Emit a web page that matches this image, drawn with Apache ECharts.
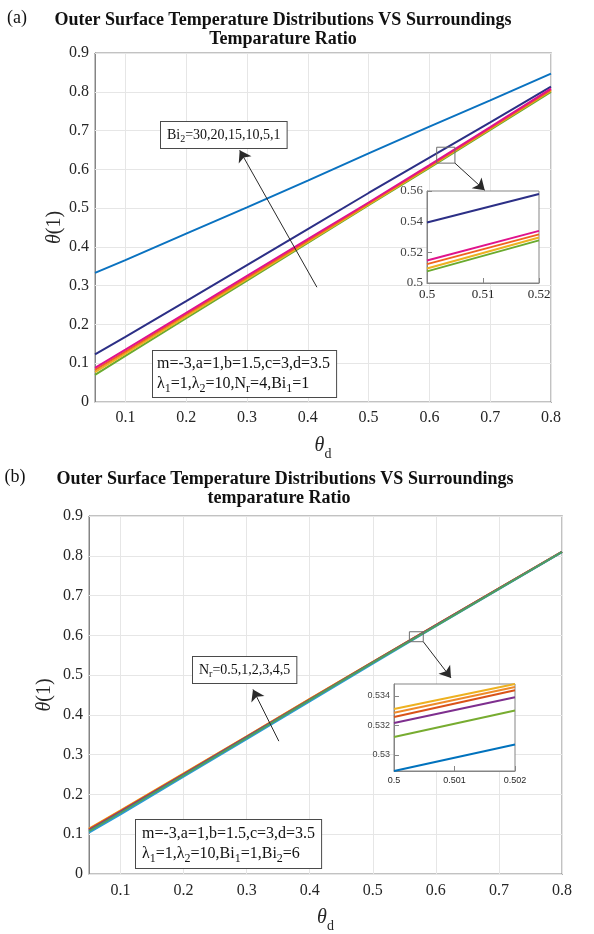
<!DOCTYPE html>
<html>
<head>
<meta charset="utf-8">
<script src="https://cdn.jsdelivr.net/npm/echarts@6/dist/echarts.min.js"></script>
<style>
  html, body { margin: 0; padding: 0; background: #fff; }
  #chart { width: 594px; height: 934px; }
</style>
</head>
<body>
<div id="chart"></div>
<script>
// ---- data -------------------------------------------------------------
// theta_d sample points shared by the main curves
const thetaD = [0.05, 0.1, 0.2, 0.3, 0.4, 0.5, 0.6, 0.7, 0.8];

// (a) theta(1) for Bi2 = 1, 5, 10, 15, 20, 30
const bi2_1  = [0.333, 0.366, 0.434, 0.502, 0.571, 0.641, 0.710, 0.778, 0.847];
const bi2_5  = [0.123, 0.168, 0.260, 0.353, 0.446, 0.539, 0.630, 0.721, 0.813];
const bi2_10 = [0.088, 0.135, 0.230, 0.325, 0.420, 0.5145, 0.611, 0.709, 0.808];
const bi2_15 = [0.083, 0.130, 0.226, 0.321, 0.416, 0.512, 0.608, 0.706, 0.805];
const bi2_20 = [0.077, 0.125, 0.221, 0.317, 0.413, 0.5095, 0.606, 0.704, 0.803];
const bi2_30 = [0.070, 0.119, 0.216, 0.313, 0.410, 0.5075, 0.604, 0.702, 0.800];

// (a) close-up around theta_d = 0.5
const zoomXa     = [0.5, 0.52];
const zoomBi2_5  = [0.5395, 0.558];
const zoomBi2_10 = [0.5147, 0.534];
const zoomBi2_15 = [0.5123, 0.5317];
const zoomBi2_20 = [0.5095, 0.5297];
const zoomBi2_30 = [0.5076, 0.5278];

// (b) theta(1) for Nr = 0.5, 1, 2, 3, 4, 5
const nr05 = [0.104, 0.150, 0.245, 0.339, 0.434, 0.5289, 0.623, 0.716, 0.809];
const nr1  = [0.108, 0.154, 0.248, 0.342, 0.437, 0.5312, 0.624, 0.717, 0.8095];
const nr2  = [0.110, 0.156, 0.250, 0.344, 0.438, 0.5322, 0.625, 0.7175, 0.8098];
const nr3  = [0.112, 0.158, 0.251, 0.345, 0.439, 0.5326, 0.6255, 0.718, 0.810];
const nr4  = [0.113, 0.159, 0.252, 0.3455, 0.4395, 0.5329, 0.6258, 0.718, 0.810];
const nr5  = [0.114, 0.160, 0.253, 0.346, 0.440, 0.5331, 0.626, 0.7183, 0.8102];

// (b) close-up around theta_d = 0.5
const zoomXb    = [0.5, 0.502];
const zoomNr05  = [0.5289, 0.5307];
const zoomNr1   = [0.5312, 0.5330];
const zoomNr2   = [0.53215, 0.5339];
const zoomNr3   = [0.53256, 0.53438];
const zoomNr4   = [0.53285, 0.5346];
const zoomNr5   = [0.5331, 0.5348];

// tick values
const xTicksMain  = [0.1, 0.2, 0.3, 0.4, 0.5, 0.6, 0.7, 0.8];
const yTicksMain  = [0, 0.1, 0.2, 0.3, 0.4, 0.5, 0.6, 0.7, 0.8, 0.9];
const xTicksZoomA = [0.5, 0.51, 0.52];
const yTicksZoomA = [0.5, 0.52, 0.54, 0.56];
const xTicksZoomB = [0.5, 0.501, 0.502];
const yTicksZoomB = [0.53, 0.532, 0.534];

// ---- styling ----------------------------------------------------------
const SERIF = '"Liberation Serif", "Times New Roman", serif';
const SANS  = '"Liberation Sans", Arial, sans-serif';
const AXIS  = '#858585';
const GRIDC = '#e6e6e6';
const INK   = '#262626';

const fmt = v => String(parseFloat(Number(v).toFixed(4)));
const pairs = (xs, ys) => xs.map((x, i) => [x, ys[i]]);

function bottomX(gridIndex, min, max, ticks, font, size, margin, withName) {
  const ax = {
    type: 'value', gridIndex, min, max, position: 'bottom',
    axisLine: { show: true, onZero: false, lineStyle: { color: AXIS } },
    axisTick: { show: true, inside: true, length: 5, customValues: ticks, lineStyle: { color: AXIS } },
    axisLabel: { customValues: ticks, color: INK, fontFamily: font, fontSize: size, margin, formatter: fmt },
    splitLine: { show: false }
  };
  if (withName) {
    ax.name = '{t|θ}{s|d}';
    ax.nameLocation = 'middle';
    ax.nameGap = 32;
    ax.nameTextStyle = {
      rich: {
        t: { fontFamily: SERIF, fontStyle: 'italic', fontSize: 20, lineHeight: 24, color: INK },
        s: { fontFamily: SERIF, fontSize: 14, lineHeight: 24, color: INK, verticalAlign: 'top', padding: [13, 0, 0, 0] }
      }
    };
  }
  return ax;
}
function topX(gridIndex, min, max, ticks) {
  return {
    type: 'value', gridIndex, min, max, position: 'top',
    axisLine: { show: true, onZero: false, lineStyle: { color: AXIS } },
    axisTick: { show: true, inside: true, length: 5, customValues: ticks, lineStyle: { color: AXIS } },
    axisLabel: { show: false }, splitLine: { show: false }
  };
}
function leftY(gridIndex, min, max, ticks, font, size, margin, nameGap, color) {
  const ax = {
    type: 'value', gridIndex, min, max, position: 'left',
    axisLine: { show: true, onZero: false, lineStyle: { color: AXIS } },
    axisTick: { show: true, inside: true, length: 5, customValues: ticks, lineStyle: { color: AXIS } },
    axisLabel: { customValues: ticks, color: color || INK, fontFamily: font, fontSize: size, margin, formatter: fmt },
    splitLine: { show: false }
  };
  if (nameGap) {
    ax.name = '{t|θ}{n|(1)}';
    ax.nameLocation = 'middle';
    ax.nameGap = nameGap;
    ax.nameMoveOverlap = false;
    ax.nameTextStyle = {
      rich: {
        t: { fontFamily: SERIF, fontStyle: 'italic', fontSize: 20, color: INK },
        n: { fontFamily: SERIF, fontSize: 20, color: INK }
      }
    };
  }
  return ax;
}
function rightY(gridIndex, min, max, ticks) {
  return {
    type: 'value', gridIndex, min, max, position: 'right',
    axisLine: { show: true, onZero: false, lineStyle: { color: AXIS } },
    axisTick: { show: true, inside: true, length: 5, customValues: ticks, lineStyle: { color: AXIS } },
    axisLabel: { show: false }, splitLine: { show: false }
  };
}

function curve(name, xi, yi, xs, ys, color, width, z) {
  return {
    name, type: 'line', xAxisIndex: xi, yAxisIndex: yi,
    data: pairs(xs, ys), showSymbol: false, symbol: 'none',
    lineStyle: { color, width }, itemStyle: { color }, z: z || 3, silent: true
  };
}

// grid lines and the small zoom box of one panel
function decor(xi, yi, xGrid, yGrid, rect) {
  return {
    type: 'line', xAxisIndex: xi, yAxisIndex: yi, data: [], z: 1, silent: true,
    markLine: {
      z: 1, silent: true, symbol: ['none', 'none'], label: { show: false }, animation: false,
      lineStyle: { color: GRIDC, type: 'solid', width: 1 },
      data: xGrid.map(v => ({ xAxis: v })).concat(yGrid.map(v => ({ yAxis: v })))
    },
    markArea: {
      z: 4, silent: true, animation: false,
      itemStyle: { color: 'rgba(0,0,0,0)', borderColor: '#6e6e6e', borderWidth: 1 },
      data: [[{ coord: rect[0] }, { coord: rect[1] }]]
    }
  };
}
// pointer arrows of one panel
function pointers(xi, yi, arrows) {
  return {
    type: 'line', xAxisIndex: xi, yAxisIndex: yi, data: [], z: 5, silent: true,
    markLine: {
      z: 5, silent: true, symbol: ['none', 'arrow'], symbolSize: 11, label: { show: false }, animation: false,
      lineStyle: { color: '#2a2a2a', type: 'solid', width: 1 },
      data: arrows.map(a => [{ coord: a[0] }, { coord: a[1] }])
    }
  };
}

function box(x, y, text, size, pad) {
  return {
    type: 'text', left: x, top: y, z: 100,
    style: {
      text,
      rich: {
        n: { fontFamily: SERIF, fontSize: size, lineHeight: size + 4, fill: '#111' },
        s: { fontFamily: SERIF, fontSize: size - 4, lineHeight: size + 4, fill: '#111', verticalAlign: 'top', padding: [Math.round(size * 0.55), 0, 0, 0] }
      },
      backgroundColor: '#fff', borderColor: '#4a4a4a', borderWidth: 1, padding: pad
    }
  };
}
function label(x, y, text, font) {
  return {
    type: 'text', x, y, z: 100,
    style: { text, font, fill: '#111', align: 'center', textAlign: 'center', verticalAlign: 'middle', textVerticalAlign: 'middle' }
  };
}

const option = {
  animation: false,
  backgroundColor: '#fff',
  grid: [
    { left: 95, top: 53, width: 456, height: 349, show: true, backgroundColor: 'transparent', borderColor: AXIS, borderWidth: 1, z: 0 },
    { left: 427, top: 191, width: 112, height: 92, show: true, backgroundColor: '#fff', borderColor: AXIS, borderWidth: 1, z: 2 },
    { left: 89, top: 516, width: 473, height: 359, show: true, backgroundColor: 'transparent', borderColor: AXIS, borderWidth: 1, z: 0 },
    { left: 394, top: 684, width: 121, height: 87, show: true, backgroundColor: '#fff', borderColor: AXIS, borderWidth: 1, z: 2 }
  ],
  xAxis: [
    bottomX(0, 0.05, 0.8, xTicksMain, SERIF, 16, 8, true),
    topX(0, 0.05, 0.8, xTicksMain),
    Object.assign(bottomX(1, 0.5, 0.52, xTicksZoomA, SERIF, 13, 5, false), { z: 3 }),
    bottomX(2, 0.05, 0.8, xTicksMain, SERIF, 16, 9, true),
    topX(2, 0.05, 0.8, xTicksMain),
    Object.assign(bottomX(3, 0.5, 0.502, xTicksZoomB, SANS, 9, 5, false), { z: 3 })
  ],
  yAxis: [
    leftY(0, 0, 0.9, yTicksMain, SERIF, 16, 6, 30),
    rightY(0, 0, 0.9, yTicksMain),
    Object.assign(leftY(1, 0.5, 0.56, yTicksZoomA, SERIF, 13, 4, 0, '#444'), { z: 3 }),
    leftY(2, 0, 0.9, yTicksMain, SERIF, 16, 6, 34),
    rightY(2, 0, 0.9, yTicksMain),
    Object.assign(leftY(3, 0.5289, 0.5348, yTicksZoomB, SANS, 9, 4, 0, '#444'), { z: 3 })
  ],
  series: [
    // (a) main
    decor(0, 0, xTicksMain, yTicksMain, [[0.612, 0.616], [0.642, 0.657]]),
    curve('Bi2=1',  0, 0, thetaD, bi2_1,  '#0a72c0', 2),
    curve('Bi2=5',  0, 0, thetaD, bi2_5,  '#2c2f86', 2),
    curve('Bi2=30', 0, 0, thetaD, bi2_30, '#6aab2e', 2),
    curve('Bi2=20', 0, 0, thetaD, bi2_20, '#edb120', 2),
    curve('Bi2=15', 0, 0, thetaD, bi2_15, '#f0641e', 2),
    curve('Bi2=10', 0, 0, thetaD, bi2_10, '#e0138c', 2),
    pointers(0, 0, [[[0.415, 0.296], [0.288, 0.649]], [[0.642, 0.616], [0.691, 0.546]]]),
    // (a) close-up
    curve('Bi2=5 zoom',  2, 2, zoomXa, zoomBi2_5,  '#2c2f86', 2, 4),
    curve('Bi2=10 zoom', 2, 2, zoomXa, zoomBi2_10, '#e0138c', 2, 4),
    curve('Bi2=15 zoom', 2, 2, zoomXa, zoomBi2_15, '#f0641e', 2, 4),
    curve('Bi2=20 zoom', 2, 2, zoomXa, zoomBi2_20, '#edb120', 2, 4),
    curve('Bi2=30 zoom', 2, 2, zoomXa, zoomBi2_30, '#6aab2e', 2, 4),
    // (b) main, drawn so the green and blue curves end up on top
    decor(3, 3, xTicksMain, yTicksMain, [[0.558, 0.584], [0.580, 0.609]]),
    curve('Nr=5',   3, 3, thetaD, nr5,  '#edb120', 2),
    curve('Nr=4',   3, 3, thetaD, nr4,  '#ee8a2a', 2),
    curve('Nr=3',   3, 3, thetaD, nr3,  '#d95319', 2),
    curve('Nr=2',   3, 3, thetaD, nr2,  '#7e2f8e', 2),
    curve('Nr=0.5', 3, 3, thetaD, nr05, '#2a9bd8', 2),
    curve('Nr=1',   3, 3, thetaD, nr1,  '#4f9e5c', 2),
    pointers(3, 3, [[[0.351, 0.334], [0.310, 0.464]], [[0.580, 0.584], [0.624, 0.493]]]),
    // (b) close-up
    curve('Nr=0.5 zoom', 5, 5, zoomXb, zoomNr05, '#0072bd', 2, 4),
    curve('Nr=1 zoom',   5, 5, zoomXb, zoomNr1,  '#77ac30', 2, 4),
    curve('Nr=2 zoom',   5, 5, zoomXb, zoomNr2,  '#7e2f8e', 2, 4),
    curve('Nr=3 zoom',   5, 5, zoomXb, zoomNr3,  '#d95319', 2, 4),
    curve('Nr=4 zoom',   5, 5, zoomXb, zoomNr4,  '#ee8a2a', 2, 4),
    curve('Nr=5 zoom',   5, 5, zoomXb, zoomNr5,  '#edb120', 2, 4)
  ],
  graphic: [
    label(17, 18, '(a)', '18px ' + SERIF),
    label(283, 20, 'Outer Surface Temperature Distributions VS Surroundings', 'bold 18px ' + SERIF),
    label(283, 39, 'Temparature Ratio', 'bold 18px ' + SERIF),
    box(160, 121, '{n|Bi}{s|2}{n|=30,20,15,10,5,1}', 14, [4, 6, 4, 6]),
    box(152, 350, '{n|m=-3,a=1,b=1.5,c=3,d=3.5}\n{n|λ}{s|1}{n|=1,λ}{s|2}{n|=10,N}{s|r}{n|=4,Bi}{s|1}{n|=1}', 16, [3, 6, 3, 4]),

    label(15, 477, '(b)', '18px ' + SERIF),
    label(285, 479, 'Outer Surface Temperature Distributions VS Surroundings', 'bold 18px ' + SERIF),
    label(279, 498, 'temparature Ratio', 'bold 18px ' + SERIF),
    box(192, 656, '{n|N}{s|r}{n|=0.5,1,2,3,4,5}', 14, [4, 6, 4, 6]),
    box(135, 819, '{n|m=-3,a=1,b=1.5,c=3,d=3.5}\n{n|λ}{s|1}{n|=1,λ}{s|2}{n|=10,Bi}{s|1}{n|=1,Bi}{s|2}{n|=6}', 16, [4, 6, 4, 6])
  ]
};

const chart = echarts.init(document.getElementById('chart'), null, { renderer: 'canvas', width: 594, height: 934 });
chart.setOption(option);
</script>
</body>
</html>
